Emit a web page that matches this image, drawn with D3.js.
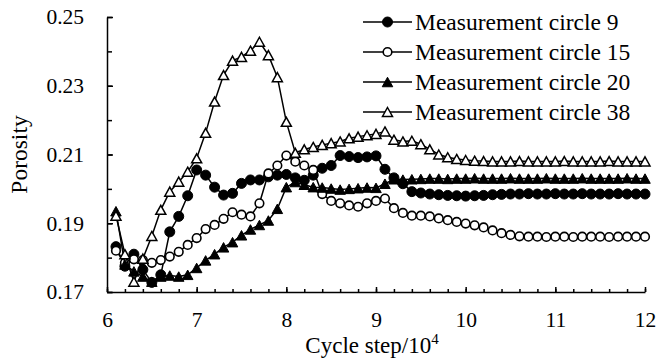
<!DOCTYPE html>
<html>
<head>
<meta charset="utf-8">
<script src="https://cdn.jsdelivr.net/npm/d3@7"></script>
<style>
  body { margin: 0; background: #fff; }
  text { font-family: "Liberation Serif", "Times New Roman", serif; fill: #000; }
</style>
</head>
<body>
<div id="chart"></div>
<script>
// Cycle step (x 10^4)
const steps = [6.1, 6.2, 6.3, 6.4, 6.5, 6.6, 6.7, 6.8, 6.9, 7.0,
  7.1, 7.2, 7.3, 7.4, 7.5, 7.6, 7.7, 7.8, 7.9, 8.0,
  8.1, 8.2, 8.3, 8.4, 8.5, 8.6, 8.7, 8.8, 8.9, 9.0,
  9.1, 9.2, 9.3, 9.4, 9.5, 9.6, 9.7, 9.8, 9.9, 10.0,
  10.1, 10.2, 10.3, 10.4, 10.5, 10.6, 10.7, 10.8, 10.9, 11.0,
  11.1, 11.2, 11.3, 11.4, 11.5, 11.6, 11.7, 11.8, 11.9, 12.0];

const circle9 = [0.1832, 0.1775, 0.1810, 0.1765, 0.1728, 0.1750, 0.1875, 0.1920, 0.1980, 0.2055,
  0.2040, 0.2005, 0.1982, 0.1987, 0.2016, 0.2026, 0.2026, 0.2035, 0.2040, 0.2042,
  0.2032, 0.2025, 0.2040, 0.2060, 0.2068, 0.2097, 0.2094, 0.2091, 0.2093, 0.2096,
  0.2057, 0.2032, 0.2015, 0.1992, 0.1988, 0.1985, 0.1983, 0.1981, 0.1980, 0.1979,
  0.1980, 0.1981, 0.1983, 0.1984, 0.1985, 0.1985, 0.1986, 0.1985, 0.1985, 0.1986,
  0.1985, 0.1985, 0.1986, 0.1985, 0.1985, 0.1985, 0.1986, 0.1985, 0.1985, 0.1985];

const circle15 = [0.1820, 0.1785, 0.1795, 0.1793, 0.1785, 0.1793, 0.1803, 0.1817, 0.1837, 0.1857,
  0.1883, 0.1895, 0.1913, 0.1932, 0.1925, 0.1920, 0.1958, 0.2045, 0.2068, 0.2097,
  0.2079, 0.2068, 0.2055, 0.1985, 0.1965, 0.1958, 0.1952, 0.1948, 0.1958, 0.1965,
  0.1972, 0.1944, 0.1930, 0.1922, 0.1922, 0.1920, 0.1914, 0.1909, 0.1904, 0.1899,
  0.1894, 0.1888, 0.1879, 0.1871, 0.1866, 0.1862, 0.1861, 0.1861, 0.1860, 0.1861,
  0.1861, 0.1860, 0.1861, 0.1861, 0.1861, 0.1860, 0.1861, 0.1861, 0.1861, 0.1861];

const circle20 = [0.1935, 0.1780, 0.1760, 0.1745, 0.1730, 0.1745, 0.1748, 0.1745, 0.1750, 0.1770,
  0.1792, 0.1810, 0.1830, 0.1845, 0.1865, 0.1882, 0.1895, 0.1908, 0.1942, 0.2005,
  0.2020, 0.2012, 0.2005, 0.2004, 0.2001, 0.1998, 0.2000, 0.2002, 0.2004, 0.2003,
  0.2015, 0.2028, 0.2027, 0.2028, 0.2029, 0.2030, 0.2030, 0.2029, 0.2030, 0.2030,
  0.2031, 0.2030, 0.2030, 0.2030, 0.2031, 0.2030, 0.2030, 0.2030, 0.2031, 0.2030,
  0.2030, 0.2030, 0.2031, 0.2030, 0.2030, 0.2030, 0.2030, 0.2031, 0.2030, 0.2030];

const circle38 = [0.1922, 0.1810, 0.1730, 0.1797, 0.1863, 0.1939, 0.1992, 0.2021, 0.2050, 0.2089,
  0.2163, 0.2254, 0.2331, 0.2373, 0.2384, 0.2402, 0.2428, 0.2389, 0.2325, 0.2195,
  0.2105, 0.2115, 0.2122, 0.2128, 0.2133, 0.2138, 0.2147, 0.2152, 0.2156, 0.2160,
  0.2167, 0.2143, 0.2138, 0.2140, 0.2130, 0.2115, 0.2100, 0.2092, 0.2087, 0.2084,
  0.2082, 0.2081, 0.2080, 0.2080, 0.2080, 0.2081, 0.2080, 0.2080, 0.2080, 0.2080,
  0.2081, 0.2080, 0.2080, 0.2080, 0.2080, 0.2081, 0.2080, 0.2080, 0.2080, 0.2080];

const seriesNames = ['Measurement circle 9', 'Measurement circle 15', 'Measurement circle 20', 'Measurement circle 38'];
const xTickLabels = [6, 7, 8, 9, 10, 11, 12];
const yTickLabels = [0.17, 0.19, 0.21, 0.23, 0.25];

const W = 657, H = 361;
const LEFT = 107, RIGHT = 645, TOP = 17, BOTTOM = 292;

const series = [
    { name: seriesNames[0], values: circle9, shape: 'circle', filled: true },
    { name: seriesNames[1], values: circle15, shape: 'circle', filled: false },
    { name: seriesNames[2], values: circle20, shape: 'triangle', filled: true },
    { name: seriesNames[3], values: circle38, shape: 'triangle', filled: false }
];

const svg = d3.select('#chart')
    .append('svg')
    .attr('width', W)
    .attr('height', H)
    .style('background', '#fff');

const x = d3.scaleLinear().domain([6, 12]).range([LEFT, RIGHT]);
const y = d3.scaleLinear().domain([0.17, 0.25]).range([BOTTOM, TOP]);

// Axes: ticks point inward, minor ticks without labels
const xMinor = d3.range(6, 12.001, 0.2);
const yMinor = d3.range(0.17, 0.2501, 0.01);

svg.append('g')
    .attr('transform', `translate(0,${BOTTOM})`)
    .call(d3.axisBottom(x).tickValues(xMinor).tickSize(-3).tickSizeOuter(0).tickFormat(''))
    .call(g => g.select('.domain').remove());

svg.append('g')
    .attr('transform', `translate(${LEFT},0)`)
    .call(d3.axisLeft(y).tickValues(yMinor).tickSize(-5).tickSizeOuter(0).tickFormat(''))
    .call(g => g.select('.domain').remove());

svg.append('g')
    .attr('transform', `translate(0,${BOTTOM})`)
    .call(d3.axisBottom(x).tickValues(xTickLabels).tickSize(-5).tickSizeOuter(0).tickPadding(20).tickFormat(d3.format('d')));

svg.append('g')
    .attr('transform', `translate(${LEFT},0)`)
    .call(d3.axisLeft(y).tickValues(yTickLabels).tickSize(-6).tickSizeOuter(0).tickPadding(23).tickFormat(d3.format('.2f')));

svg.selectAll('.tick line, .domain')
    .attr('stroke', '#000')
    .attr('stroke-width', 1.5);
svg.selectAll('.tick text')
    .attr('font-size', 21.5)
    .style('font-family', '"Liberation Serif", "Times New Roman", serif');

// Marker drawing
function triPath(w, h) {
    return `M0,${-h / 2}L${w / 2},${h / 2}L${-w / 2},${h / 2}Z`;
}

function drawMarker(g, s) {
    if (s.shape === 'circle') {
        g.append('circle')
            .attr('r', s.filled ? 5 : 4.3)
            .attr('fill', s.filled ? '#000' : '#fff')
            .attr('stroke', '#000')
            .attr('stroke-width', s.filled ? 1 : 1.6);
    } else {
        g.append('path')
            .attr('d', triPath(s.filled ? 10.5 : 10, s.filled ? 9.5 : 9))
            .attr('fill', s.filled ? '#000' : '#fff')
            .attr('stroke', '#000')
            .attr('stroke-width', s.filled ? 1 : 1.5)
            .attr('stroke-linejoin', 'miter');
    }
}

const line = d3.line().x(d => x(d[0])).y(d => y(d[1]));

series.forEach(s => {
    const pts = steps.map((st, i) => [st, s.values[i]]);
    const g = svg.append('g');
    g.append('path')
        .datum(pts)
        .attr('d', line)
        .attr('fill', 'none')
        .attr('stroke', '#000')
        .attr('stroke-width', 1.5);
    g.selectAll('g.pt')
        .data(pts)
        .join('g')
        .attr('class', 'pt')
        .attr('transform', d => `translate(${x(d[0])},${y(d[1])})`)
        .each(function () { drawMarker(d3.select(this), s); });
});

// Legend
const legend = svg.append('g');
series.forEach((s, i) => {
    const ly = 22 + i * 30;
    legend.append('line')
        .attr('x1', 363).attr('x2', 412)
        .attr('y1', ly).attr('y2', ly)
        .attr('stroke', '#000')
        .attr('stroke-width', 1.5);
    const mg = legend.append('g').attr('transform', `translate(387.5,${ly})`);
    drawMarker(mg, s);
    legend.append('text')
        .attr('x', 415)
        .attr('y', ly + 8)
        .attr('font-size', 23.5)
        .text(s.name);
});

// Axis titles
svg.append('text')
    .attr('transform', `translate(27,${(TOP + BOTTOM) / 2}) rotate(-90)`)
    .attr('text-anchor', 'middle')
    .attr('font-size', 23.5)
    .text('Porosity');

const xt = svg.append('text')
    .attr('x', 372)
    .attr('y', 353)
    .attr('text-anchor', 'middle')
    .attr('font-size', 23);
xt.append('tspan').text('Cycle step/10');
xt.append('tspan').attr('font-size', 15).attr('dy', -9).text('4');
</script>
</body>
</html>
